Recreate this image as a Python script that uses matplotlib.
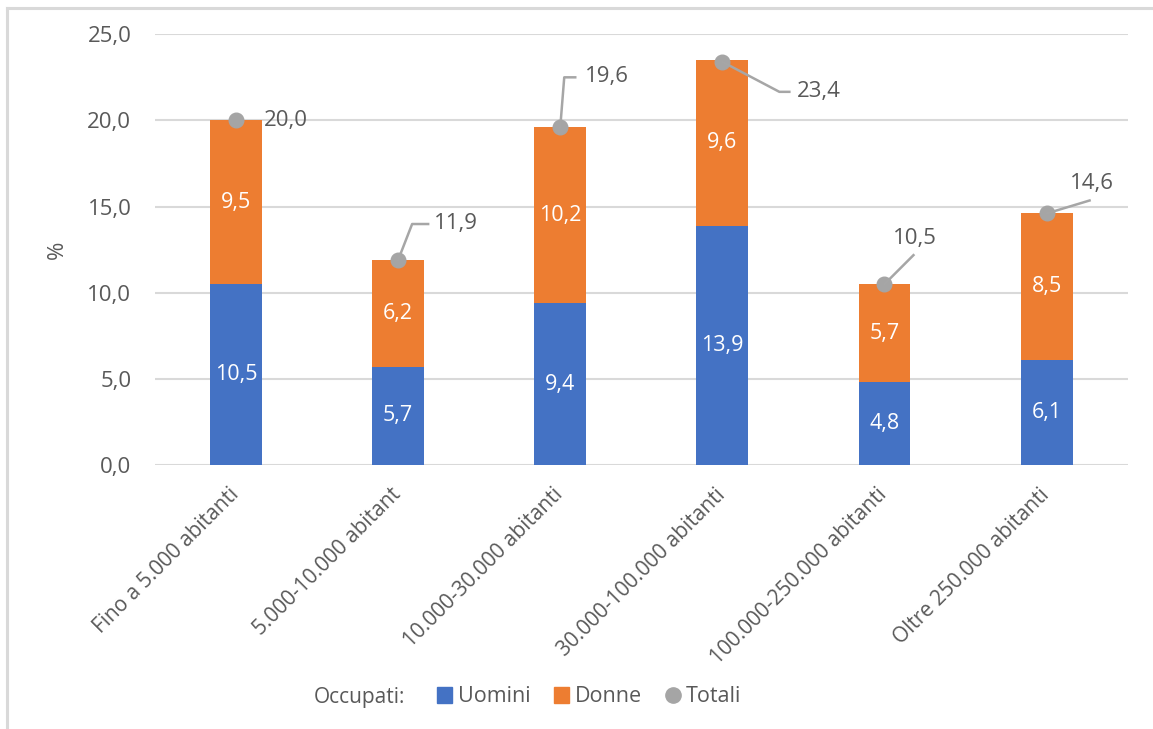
import matplotlib
matplotlib.use("Agg")
import matplotlib.pyplot as plt
from matplotlib.lines import Line2D
from matplotlib.patches import Patch
from matplotlib.transforms import IdentityTransform, ScaledTranslation
from matplotlib.ticker import FuncFormatter

categorie = ["Fino a 5.000 abitanti", "5.000-10.000 abitant", "10.000-30.000 abitanti",
             "30.000-100.000 abitanti", "100.000-250.000 abitanti", "Oltre 250.000 abitanti"]
uomini = [10.5, 5.7, 9.4, 13.9, 4.8, 6.1]
donne = [9.5, 6.2, 10.2, 9.6, 5.7, 8.5]
totali = [20.0, 11.9, 19.6, 23.4, 10.5, 14.6]

BLU = "#4472C4"
ARANCIO = "#ED7D31"
GRIGIO = "#A5A5A5"
TESTO = "#595959"
GRIGLIA = "#D9D9D9"

plt.rcParams["font.family"] = ["Open Sans", "DejaVu Sans"]

def virgola(v):
    return f"{v:.1f}".replace(".", ",")

fig = plt.figure(figsize=(11.53, 7.29), dpi=100)
ax = fig.add_axes([0.1344, 0.362, 0.8436, 0.591])

x = list(range(len(categorie)))
w = 0.32
ax.bar(x, uomini, w, color=BLU, zorder=2)
ax.bar(x, donne, w, bottom=uomini, color=ARANCIO, zorder=2)
ax.plot(x, totali, "o", color=GRIGIO, markersize=10.5, zorder=4)

# valori dentro le barre
for i in x:
    ax.text(i, uomini[i] / 2, virgola(uomini[i]), color="white", fontsize=15.5,
            ha="center", va="center", zorder=3)
    ax.text(i, uomini[i] + donne[i] / 2, virgola(donne[i]), color="white", fontsize=15.5,
            ha="center", va="center", zorder=3)

ax.set_xlim(-0.5, 5.5)
ax.set_ylim(0, 25)
ax.set_yticks([0, 5, 10, 15, 20, 25])
ax.yaxis.set_major_formatter(FuncFormatter(lambda v, p: virgola(v)))
ax.grid(axis="y", color=GRIGLIA, linewidth=1.5, zorder=0)
ax.set_axisbelow(True)
for s in ax.spines.values():
    s.set_visible(False)
ax.tick_params(axis="both", length=0, colors=TESTO)
ax.tick_params(axis="y", pad=17, labelsize=16)
ax.tick_params(axis="x", pad=8, labelsize=15)
ax.set_xticks(x)
ax.set_xticklabels(categorie, rotation=45, ha="right", va="top", rotation_mode="anchor")
sposta = ScaledTranslation(-0.08, -0.08, fig.dpi_scale_trans)
for t in ax.get_xticklabels():
    t.set_transform(t.get_transform() + sposta)
ax.set_ylabel("%", color=TESTO, fontsize=16, labelpad=14)

# etichette dei totali con linee guida (offset in pixel dal punto)
guide = [
    [],
    [(14, 36), (30, 36)],
    [(4, 50), (15, 50)],
    [(57, -30), (67, -30)],
    [(29, 29)],
    [(43, 13)],
]
pos_testo = [((28, 0), "left"), ((36, 37), "left"), ((25, 51), "left"),
             ((75, -30), "left"), ((30, 46), "center"), ((45, 30), "center")]

fig.canvas.draw()
for i in x:
    px, py = ax.transData.transform((i, totali[i]))
    if guide[i]:
        xs = [px] + [px + dx for dx, dy in guide[i]]
        ys = [py] + [py + dy for dx, dy in guide[i]]
        fig.add_artist(Line2D(xs, ys, transform=IdentityTransform(), color="#A6A6A6",
                              linewidth=1.8, zorder=3))
    (dx, dy), ha = pos_testo[i]
    ax.annotate(virgola(totali[i]), (i, totali[i]), xytext=(dx, dy),
                textcoords="offset pixels", ha=ha, va="center",
                color=TESTO, fontsize=16, zorder=5)

# legenda
fig.text(405 / 1153, 1 - 697 / 729, "Occupati:", color=TESTO, fontsize=15,
         ha="right", va="center")
maniglie = [Patch(color=BLU), Patch(color=ARANCIO),
            Line2D([], [], marker="o", linestyle="", color=GRIGIO, markersize=11)]
leg = fig.legend(maniglie, ["Uomini", "Donne", "Totali"], ncol=3, frameon=False,
                 loc="center left", bbox_to_anchor=(418 / 1153, 1 - 697 / 729),
                 fontsize=15.5, handlelength=0.7, handleheight=0.7, handletextpad=0.25,
                 columnspacing=1.1, labelcolor=TESTO)

# cornice grigia sui lati sinistro e superiore
fig.add_artist(Line2D([6.5 / 1153, 6.5 / 1153], [0, 1 - 8 / 729],
                      transform=fig.transFigure, color=GRIGLIA, linewidth=2.2))
fig.add_artist(Line2D([6.5 / 1153, 1], [1 - 8 / 729, 1 - 8 / 729],
                      transform=fig.transFigure, color=GRIGLIA, linewidth=2.2))

fig.savefig("out.png", dpi=100)
